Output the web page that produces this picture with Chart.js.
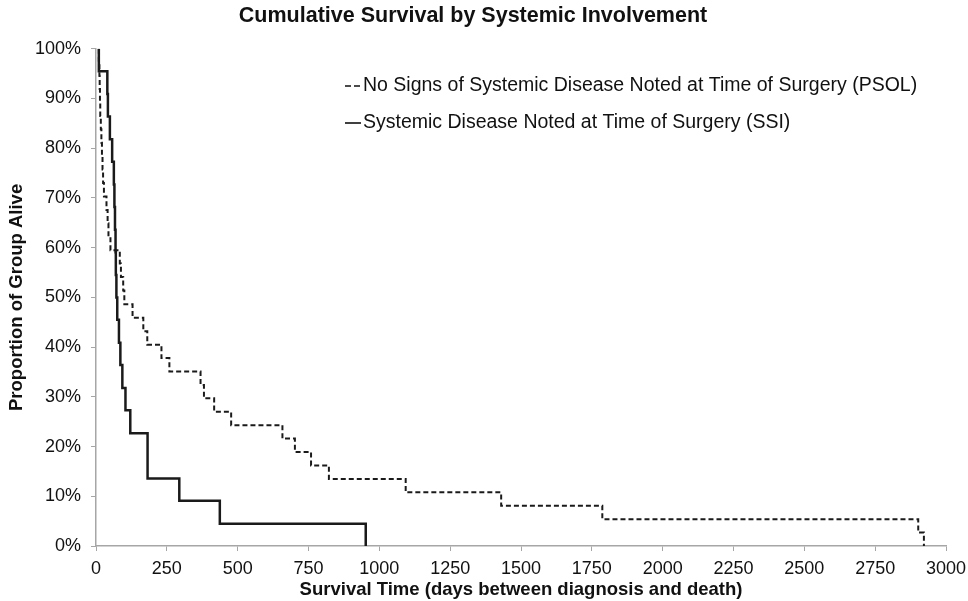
<!DOCTYPE html>
<html>
<head>
<meta charset="utf-8">
<script src="https://cdn.jsdelivr.net/npm/chart.js@4.4.1/dist/chart.umd.min.js"></script>
<style>
  body { margin: 0; background: #fff; }
  #cnt { width: 968px; height: 601px; }
</style>
</head>
<body>
<div id="cnt"><canvas id="grafica"></canvas></div>
<script>
// PSOL group (no signs of systemic disease), days and % alive
var psolDias = [10, 10, 12, 13, 14, 15, 17, 19, 21, 23, 25, 28, 37, 41, 44, 51, 84, 88, 96, 100, 129, 167, 181, 231, 259, 369, 381, 417, 477, 658, 702, 759, 822, 1093, 1430, 1787, 2902, 2922];
var psolVivos = [100, 97.3, 94.6, 91.9, 89.2, 86.5, 83.8, 81.1, 78.4, 75.7, 73.0, 70.3, 67.6, 64.9, 62.2, 59.5, 56.8, 54.1, 51.4, 48.6, 45.9, 43.2, 40.5, 37.8, 35.1, 32.4, 29.7, 27.0, 24.3, 21.6, 18.9, 16.2, 13.5, 10.8, 8.1, 5.4, 2.7, 0];

// SSI group (systemic disease at surgery)
var ssiDias = [10, 10, 40, 42, 49, 57, 63, 65, 67, 69, 70, 72, 75, 81, 86, 93, 104, 121, 182, 294, 437, 952];
var ssiVivos = [100, 95.5, 90.9, 86.4, 81.8, 77.3, 72.7, 68.2, 63.6, 59.1, 54.5, 50.0, 45.5, 40.9, 36.4, 31.8, 27.3, 22.7, 13.6, 9.1, 4.5, 0];

var etiquetas = ['No Signs of Systemic Disease Noted at Time of Surgery (PSOL)', 'Systemic Disease Noted at Time of Surgery (SSI)'];
var xMax = 3000, xPaso = 250;
var yMax = 100, yPaso = 10;

function armarPuntos(dias, vivos) {
  return dias.map(function(d, i) { return { x: d, y: vivos[i] }; });
}

const FUENTE = "'Liberation Sans', Arial, sans-serif";

// legend drawn inside the plot, like the original
const leyendaPlugin = {
  id: 'leyendaInterna',
  afterDraw: function(chart) {
    const ctx = chart.ctx;
    const filas = [86, 123];
    ctx.save();
    ctx.font = '19.5px ' + FUENTE;
    ctx.textBaseline = 'middle';
    ctx.fillStyle = '#111';
    chart.data.datasets.forEach(function(ds, i) {
      const y = filas[i];
      ctx.beginPath();
      ctx.setLineDash(i === 0 ? [6, 3] : []);
      ctx.lineWidth = 1.6;
      ctx.strokeStyle = '#111';
      ctx.moveTo(345, y);
      ctx.lineTo(361, y);
      ctx.stroke();
      ctx.setLineDash([]);
      ctx.fillText(ds.label, 363, y);
    });
    ctx.restore();
  }
};

var ctx = document.getElementById('grafica').getContext('2d');

window.graficaSupervivencia = new Chart(ctx, {
  type: 'line',
  data: {
    datasets: [{
      label: etiquetas[0],
      data: armarPuntos(psolDias, psolVivos),
      borderColor: '#1a1a1a',
      borderWidth: 2,
      borderDash: [5, 3],
      stepped: 'before',
      pointRadius: 0,
      fill: false
    }, {
      label: etiquetas[1],
      data: armarPuntos(ssiDias, ssiVivos),
      borderColor: '#1a1a1a',
      borderWidth: 2.5,
      stepped: 'before',
      pointRadius: 0,
      fill: false
    }]
  },
  options: {
    responsive: true,
    maintainAspectRatio: false,
    animation: false,
    layout: { padding: { left: 0, right: 22, top: 0, bottom: 0 } },
    plugins: {
      legend: { display: false },
      tooltip: { enabled: false },
      title: {
        display: true,
        text: 'Cumulative Survival by Systemic Involvement',
        color: '#111',
        font: { family: FUENTE, size: 21.5, weight: 'bold' },
        padding: { top: 3, bottom: 20 }
      }
    },
    scales: {
      x: {
        type: 'linear',
        min: 0,
        max: xMax,
        afterFit: function(s) { s.height = 55; s.paddingLeft = 0; s.paddingRight = 0; },
        ticks: {
          stepSize: xPaso,
          color: '#111',
          padding: 7,
          maxRotation: 0,
          font: { family: FUENTE, size: 18 },
          callback: function(v) { return String(v); }
        },
        grid: { display: true, drawOnChartArea: false, drawTicks: true, tickLength: 5, color: '#a6a6a6' },
        border: { display: true, color: '#a6a6a6', width: 1.5 },
        title: {
          display: true,
          text: 'Survival Time (days between diagnosis and death)',
          color: '#111',
          font: { family: FUENTE, size: 18.5, weight: 'bold' },
          padding: { top: 0, bottom: 0 }
        }
      },
      y: {
        min: 0,
        max: yMax,
        afterFit: function(s) { s.width = 96; },
        ticks: {
          stepSize: yPaso,
          color: '#111',
          padding: 10,
          font: { family: FUENTE, size: 18 },
          callback: function(v) { return v + '%'; }
        },
        grid: { display: true, drawOnChartArea: false, drawTicks: true, tickLength: 5, color: '#a6a6a6' },
        border: { display: true, color: '#a6a6a6', width: 1.5 },
        title: {
          display: true,
          text: 'Proportion of Group Alive',
          color: '#111',
          font: { family: FUENTE, size: 18.5, weight: 'bold' },
          padding: { top: 6, bottom: 0 }
        }
      }
    }
  },
  plugins: [leyendaPlugin]
});
</script>
</body>
</html>
